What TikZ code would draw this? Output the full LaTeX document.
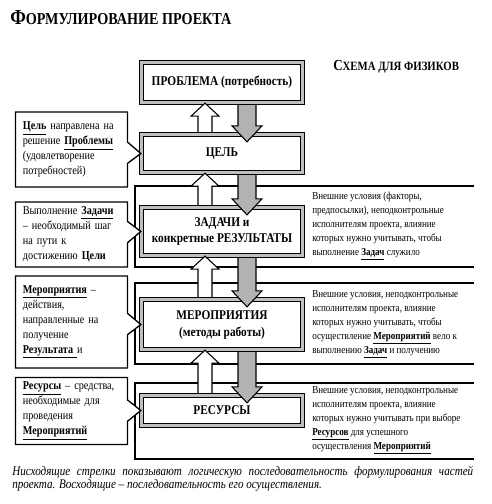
\documentclass[tikz,border=0pt]{standalone}
\usepackage{fontspec}
\setmainfont{Liberation Serif}[FakeStretch=0.85]
\usepackage[dvipsnames]{xcolor}
\usetikzlibrary{calc,shapes.callouts}

\newcommand{\souligne}[1]{\textbf{\underline{#1}}}
% fleche blanche montante : de la boite #1 vers la boite #2
\newcommand{\montee}[2]{%
\draw[flecheblanche] ($(#1.north -| xw)+(-7,-2)$) -- ($(#2.south -| xw)+(-7,13)$) -- ($(#2.south -| xw)+(-14,13)$) -- (#2.south -| xw) -- ($(#2.south -| xw)+(14,13)$) -- ($(#2.south -| xw)+(7,13)$) -- ($(#1.north -| xw)+(7,-2)$);}
% fleche grise descendante
\newcommand{\descente}[2]{%
\draw[flechegrise] ($(#1.south -| xg)+(-9,2)$) -- ($(#2.north -| xg)+(-9,-8)$) -- ($(#2.north -| xg)+(-15,-8)$) -- ($(#2.north -| xg)+(0,8)$) -- ($(#2.north -| xg)+(15,-8)$) -- ($(#2.north -| xg)+(9,-8)$) -- ($(#1.south -| xg)+(9,2)$);}

\tikzset{
boite/.style={draw, line width=1pt, double=gray!50, double distance=2pt, fill=white, minimum width=120.75pt, align=center, font=\bfseries\fontsize{10}{12.75}\selectfont},
bulle/.style={rectangle callout, draw, line width=1pt, fill=white, text width=73pt, align=left, inner xsep=5.5pt, callout pointer width=16pt, font=\fontsize{9}{11.25}\selectfont},
cadre/.style={line width=0.8pt},
texte/.style={anchor=west, align=left, inner sep=0pt, font=\fontsize{8}{10.5}\selectfont},
flecheblanche/.style={line width=0.8pt, fill=white},
flechegrise/.style={line width=0.8pt, fill=gray!60},
}

\begin{document}
\begin{tikzpicture}[x=0.75pt,y=-0.75pt]
\useasboundingbox (0,0) rectangle (492,504);

%titres
\node[anchor=base west, inner sep=0pt] (titre) at (10,24) {\bfseries\fontsize{16}{16}\selectfont Ф\fontsize{12.5}{16}\selectfont ОРМУЛИРОВАНИЕ ПРОЕКТА};
\node[anchor=base west, inner sep=0pt] (schema) at (333,70) {\bfseries\fontsize{11.5}{12}\selectfont С\fontsize{9.5}{12}\selectfont ХЕМА ДЛЯ ФИЗИКОВ};

%cadres ouverts a droite
\draw[cadre] (474,186) -| (135,267) -- (474,267);
\draw[cadre] (474,283) -| (135,364) -- (474,364);
\draw[cadre] (474,383) -| (135,459) -- (474,459);

%boites centrales
\node[boite, minimum height=30pt] (prob) at (222,82.5) {ПРОБЛЕМА (потребность)};
\node[boite, minimum height=28.5pt] (cel) at (222,153.5) {ЦЕЛЬ};
\node[boite, minimum height=36pt] (zad) at (222,231.5) {ЗАДАЧИ и\\конкретные РЕЗУЛЬТАТЫ};
\node[boite, minimum height=37.5pt] (mer) at (222,324.5) {МЕРОПРИЯТИЯ\\(методы работы)};
\node[boite, minimum height=22.5pt] (res) at (222,410.5) {РЕСУРСЫ};

%abscisses des fleches
\coordinate (xw) at (205,0);
\coordinate (xg) at (247,0);
\montee{cel}{prob}
\montee{zad}{cel}
\montee{mer}{zad}
\montee{res}{mer}
\descente{prob}{cel}
\descente{cel}{zad}
\descente{zad}{mer}
\descente{mer}{res}

%bulles a gauche
\node[bulle, minimum height=56.25pt, callout absolute pointer={(cel.west)}] (b1) at (71.5,149.5) {\souligne{Цель} направлена на\\решение \souligne{Проблемы}\\(удовлетворение\\потребностей)};
\node[bulle, minimum height=48.75pt, callout absolute pointer={(zad.west)}] (b2) at (71.5,234.5) {Выполнение \souligne{Задачи}\\– необходимый шаг\\на пути к\\достижению \textbf{Цели}};
\node[bulle, minimum height=69pt, callout absolute pointer={(mer.west)}] (b3) at (71.5,322) {\souligne{Мероприятия} –\\действия,\\направленные на\\получение\\\souligne{Результата\ }и};
\node[bulle, minimum height=47.25pt, callout absolute pointer={(res.west)}] (b4) at (71.5,411) {\souligne{Ресурсы} – средства,\\необходимые для\\проведения\\\souligne{Мероприятий}};

%textes a droite
\node[texte] (ext1) at (312,226) {Внешние условия (факторы,\\предпосылки), неподконтрольные\\исполнителям проекта, влияние\\которых нужно учитывать, чтобы\\выполнение \souligne{Задач} служило};
\node[texte] (ext2) at (312,324) {Внешние условия, неподконтрольные\\исполнителям проекта, влияние\\которых нужно учитывать, чтобы\\осуществление \souligne{Мероприятий} вело к\\выполнению \souligne{Задач} и получению};
\node[texte] (ext3) at (312,420) {Внешние условия, неподконтрольные\\исполнителям проекта, влияние\\которых нужно учитывать при выборе\\\souligne{Ресурсов} для успешного\\осуществления \souligne{Мероприятий}};

%legende
\node[anchor=north west, text width=345.75pt, align=justify, inner sep=0pt, font=\itshape\fontsize{9.8}{10}\selectfont] (note) at (12,466) {Нисходящие стрелки показывают логическую последовательность формулирования частей\linebreak проекта. Восходящие – последовательность его осуществления.};
\end{tikzpicture}
\end{document}
